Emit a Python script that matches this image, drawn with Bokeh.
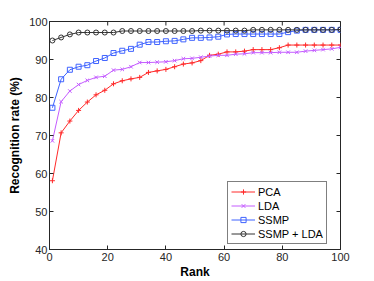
import math
from bokeh.plotting import figure
from bokeh.models import Range1d, FixedTicker, Legend, LegendItem
from bokeh.embed import file_html
from bokeh.resources import INLINE

rank = [1, 4, 7, 10, 13, 16, 19, 22, 25, 28, 31, 34, 37, 40, 43, 46, 49,
        52, 55, 58, 61, 64, 67, 70, 73, 76, 79, 82, 85, 88, 91, 94, 97, 100]

pca = [58.1, 70.7, 73.8, 76.6, 78.8, 80.7, 81.9, 83.6, 84.4, 84.9, 85.3, 86.6,
       87.0, 87.4, 88.1, 88.8, 89.1, 89.7, 91.1, 91.4, 92.0, 92.0, 92.2, 92.6,
       92.6, 92.6, 93.1, 93.8, 93.8, 93.8, 93.8, 93.8, 93.8, 93.8]
lda = [68.6, 78.9, 81.7, 83.4, 84.5, 85.3, 85.6, 87.2, 87.4, 88.1, 89.2, 89.2,
       89.3, 89.4, 89.7, 90.2, 90.3, 90.6, 90.9, 91.1, 91.1, 91.4, 91.5, 91.8,
       91.8, 91.8, 91.9, 91.9, 91.9, 92.2, 92.4, 92.6, 92.8, 93.2]
ssmp = [77.3, 84.8, 87.3, 88.1, 88.5, 89.6, 90.4, 91.7, 92.3, 92.8, 93.9, 94.6,
        94.6, 94.8, 94.9, 95.3, 95.7, 95.7, 95.8, 96.0, 96.6, 96.7, 96.7, 96.7,
        96.7, 96.7, 96.7, 97.2, 97.6, 97.8, 97.8, 97.8, 97.8, 97.8]
ssmp_lda = [95.0, 95.8, 96.6, 97.1, 97.1, 97.1, 97.1, 97.1, 97.5, 97.5, 97.5,
            97.5, 97.5, 97.5, 97.5, 97.5, 97.5, 97.6, 97.6, 97.6, 97.6, 97.6,
            97.6, 97.8, 97.8, 97.8, 97.8, 97.8, 97.8, 97.8, 97.8, 97.8, 97.8, 97.9]

x_ticks = [0, 20, 40, 60, 80, 100]
y_ticks = [40, 50, 60, 70, 80, 90, 100]
x_min, x_max = 0, 100
y_min, y_max = 40, 100

FONT = "Liberation Sans"
AX = "#262626"

p = figure(frame_width=291, frame_height=228, output_backend="svg",
           toolbar_location=None, x_range=Range1d(x_min, x_max), y_range=Range1d(y_min, y_max),
           min_border_left=49, min_border_right=20, min_border_top=21, min_border_bottom=32)
p.grid.visible = False
p.outline_line_color = AX
p.background_fill_color = "white"
p.border_fill_color = "white"

p.xaxis.ticker = FixedTicker(ticks=x_ticks)
p.yaxis.ticker = FixedTicker(ticks=y_ticks)
for ax in (p.xaxis[0], p.yaxis[0]):
    ax.major_tick_in = 4
    ax.major_tick_out = 0
    ax.minor_tick_line_color = None
    ax.axis_line_color = AX
    ax.major_tick_line_color = AX
    ax.major_label_text_font = FONT
    ax.major_label_text_font_size = "11px"
    ax.major_label_text_color = AX
    ax.major_label_standoff = 3
    ax.axis_label_text_font = FONT
    ax.axis_label_text_font_size = "12px"
    ax.axis_label_text_font_style = "bold"
    ax.axis_label_text_color = "black"
p.xaxis.axis_label = "Rank"
p.yaxis.axis_label = "Recognition rate (%)"
p.xaxis.axis_label_standoff = 1
p.yaxis.major_label_standoff = 2
p.yaxis.axis_label_standoff = 4

# inward ticks on the top and right edges of the box
p.scatter(x_ticks, [y_max] * len(x_ticks), marker="dash", angle=math.pi / 2,
          size=8, line_color=AX, line_width=1)
p.scatter([x_max] * len(y_ticks), y_ticks, marker="dash",
          size=8, line_color=AX, line_width=1)

series = [
    ("PCA", pca, "#ff2a2a", "cross"),
    ("LDA", lda, "#c45cff", "x"),
    ("SSMP", ssmp, "#3f63ff", "square"),
    ("SSMP + LDA", ssmp_lda, "#333333", "circle"),
]
items = []
for name, ys, col, mk in series:
    l = p.line(rank, ys, line_color=col, line_width=1)
    m = p.scatter(rank, ys, marker=mk, size=5, line_color=col, fill_color=None, line_width=1)
    items.append(LegendItem(label=name, renderers=[l, m]))

leg = Legend(items=items, location=(178, 5))
leg.margin = 0
leg.padding = 3
leg.spacing = 1
leg.label_height = 13
leg.glyph_height = 13
leg.glyph_width = 24
leg.label_standoff = 3
leg.label_text_font = FONT
leg.label_text_font_size = "11px"
leg.label_text_color = "black"
leg.border_line_color = "black"
leg.border_line_width = 1
leg.background_fill_alpha = 1
p.add_layout(leg)

open("out.html", "w").write(file_html(p, INLINE))
